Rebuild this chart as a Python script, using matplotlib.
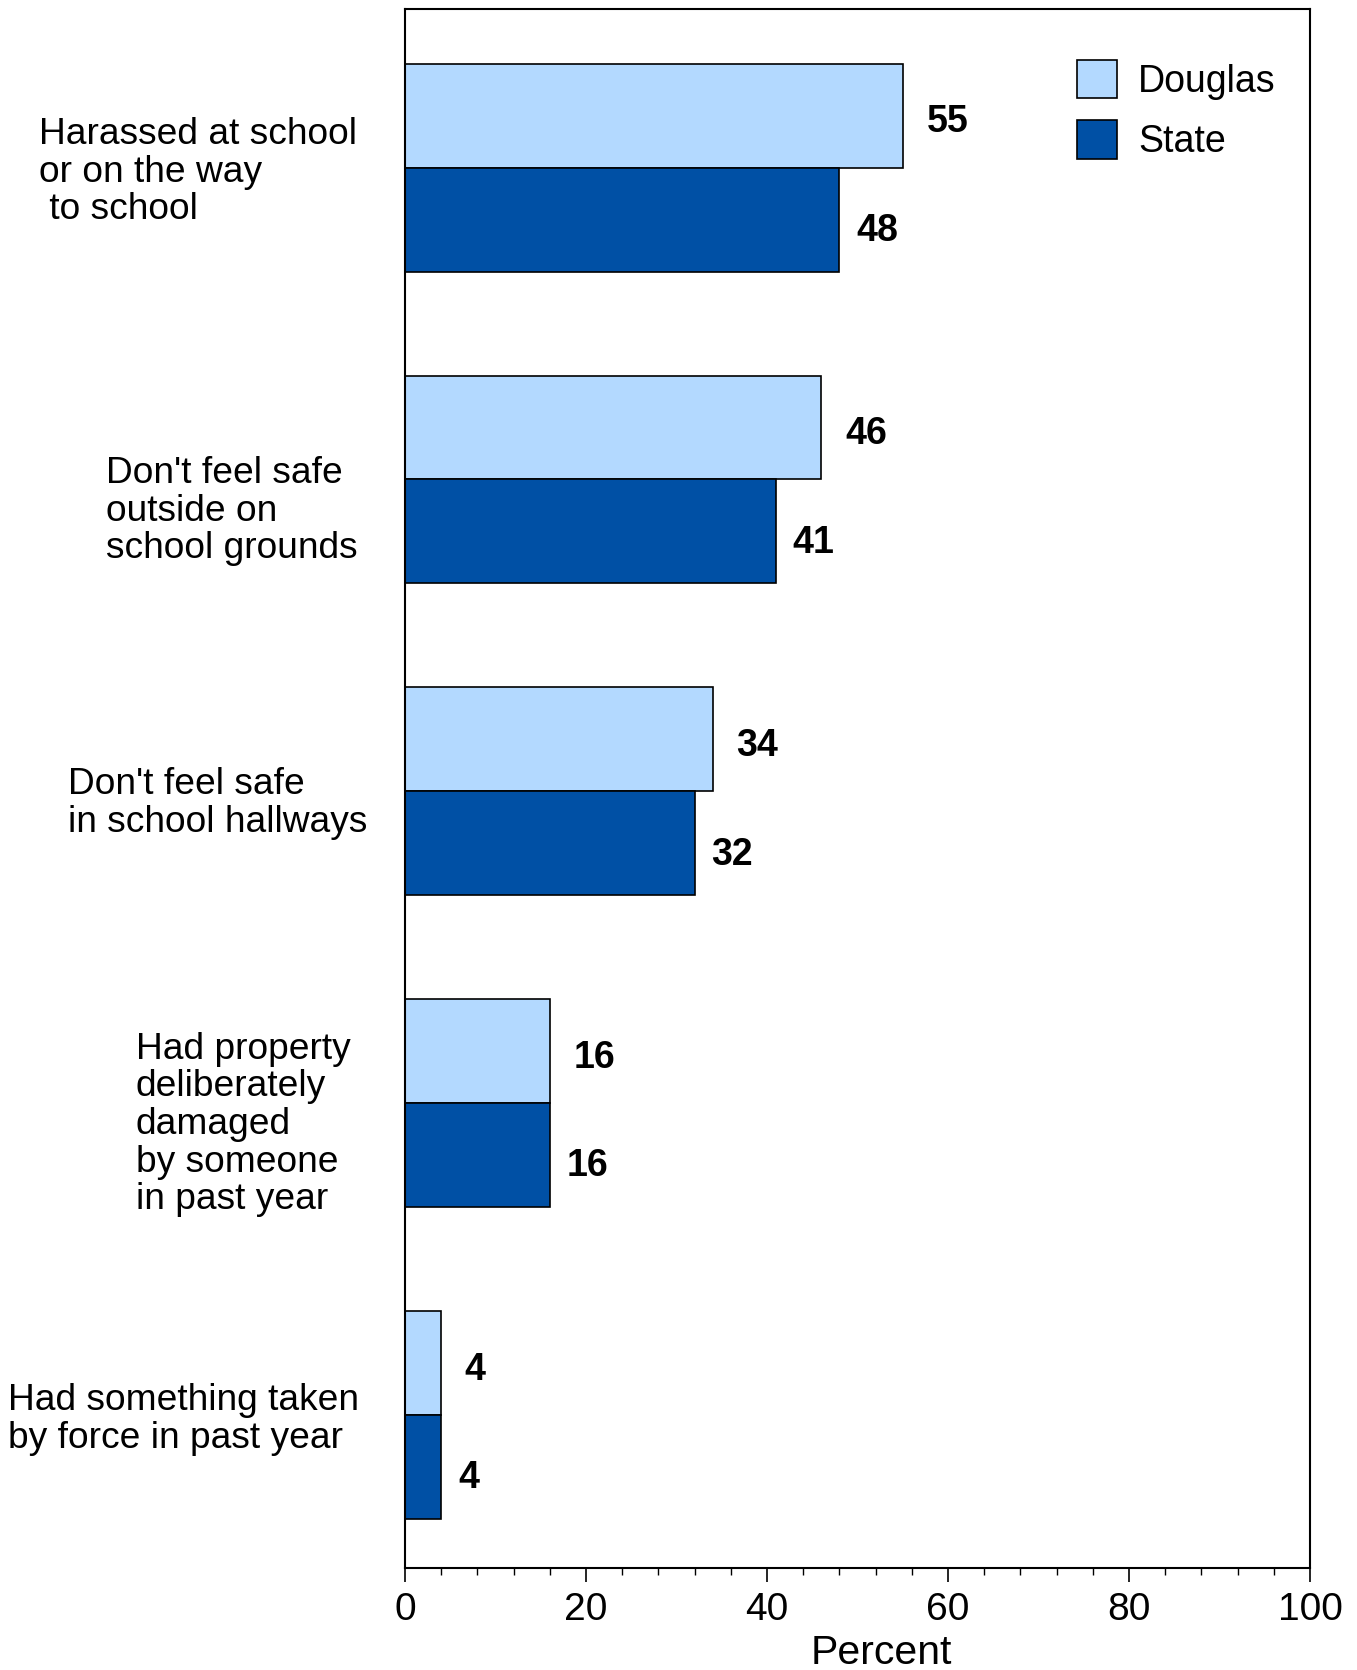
import matplotlib
matplotlib.use("Agg")
import matplotlib.pyplot as plt
from matplotlib import transforms
from matplotlib.patches import Patch
from matplotlib.ticker import MultipleLocator

categories = [
    "Harassed at school\nor on the way\n to school",
    "Don't feel safe\noutside on\nschool grounds",
    "Don't feel safe\nin school hallways",
    "Had property\ndeliberately\ndamaged\nby someone\nin past year",
    "Had something taken\nby force in past year",
]
douglas = [55, 46, 34, 16, 4]
state = [48, 41, 32, 16, 4]
series_names = ["Douglas", "State"]

LIGHT = "#b3d9ff"
DARK = "#0050a5"
plt.rcParams["font.family"] = ["Liberation Sans", "DejaVu Sans"]

fig = plt.figure(figsize=(13.57, 16.70), dpi=100)
ax = fig.add_axes([0.2985, 0.0611, 0.9654 - 0.2985, 0.9949 - 0.0611])

ypos = list(range(len(categories)))
h = 1 / 3
ax.barh([y - h / 2 for y in ypos], douglas, height=h, color=LIGHT, edgecolor="black", lw=1.2)
ax.barh([y + h / 2 for y in ypos], state, height=h, color=DARK, edgecolor="black", lw=1.2)

for y, d, s in zip(ypos, douglas, state):
    ax.annotate(str(d), (d, y - h / 2 + 0.022), xytext=(17, 0), textcoords="offset points",
                ha="left", va="center", fontsize=27, fontweight="bold")
    ax.annotate(str(s), (s, y + h / 2 + 0.036), xytext=(12, 0), textcoords="offset points",
                ha="left", va="center", fontsize=27, fontweight="bold")

# category labels: left edge in figure x, centre in data y
lab_x = [0.029, 0.078, 0.050, 0.100, 0.006]
lab_dy = [0.015, 0.102, 0.04, 0.068, 0.015]
tr = transforms.blended_transform_factory(fig.transFigure, ax.transData)
for y, text, lx, dy in zip(ypos, categories, lab_x, lab_dy):
    ax.text(lx, y + dy, text, transform=tr, ha="left", va="center",
            fontsize=26.7, linespacing=1.1)

ax.set_xlim(0, 100)
ax.set_ylim(len(categories) - 0.51, -0.51)
ax.set_yticks([])
ax.xaxis.set_major_locator(MultipleLocator(20))
ax.xaxis.set_minor_locator(MultipleLocator(4))
ax.tick_params(axis="x", which="major", length=10, width=1.2, pad=7, labelsize=28)
ax.tick_params(axis="x", which="minor", length=5, width=1.0)
for sp in ax.spines.values():
    sp.set_linewidth(1.5)

ax.set_xlabel("Percent", fontsize=29.5, va="baseline")
ax.xaxis.set_label_coords(0.526, -0.0615)

handles = [Patch(facecolor=LIGHT, edgecolor="black", lw=1.2),
           Patch(facecolor=DARK, edgecolor="black", lw=1.2)]
ax.legend(handles, series_names, loc="upper left", bbox_to_anchor=(0.743, 0.967),
          frameon=False, fontsize=27, handlelength=1.065, handleheight=1.2,
          labelspacing=0.55, handletextpad=0.55, borderaxespad=0, borderpad=0)

fig.savefig("out.png", dpi=100)
